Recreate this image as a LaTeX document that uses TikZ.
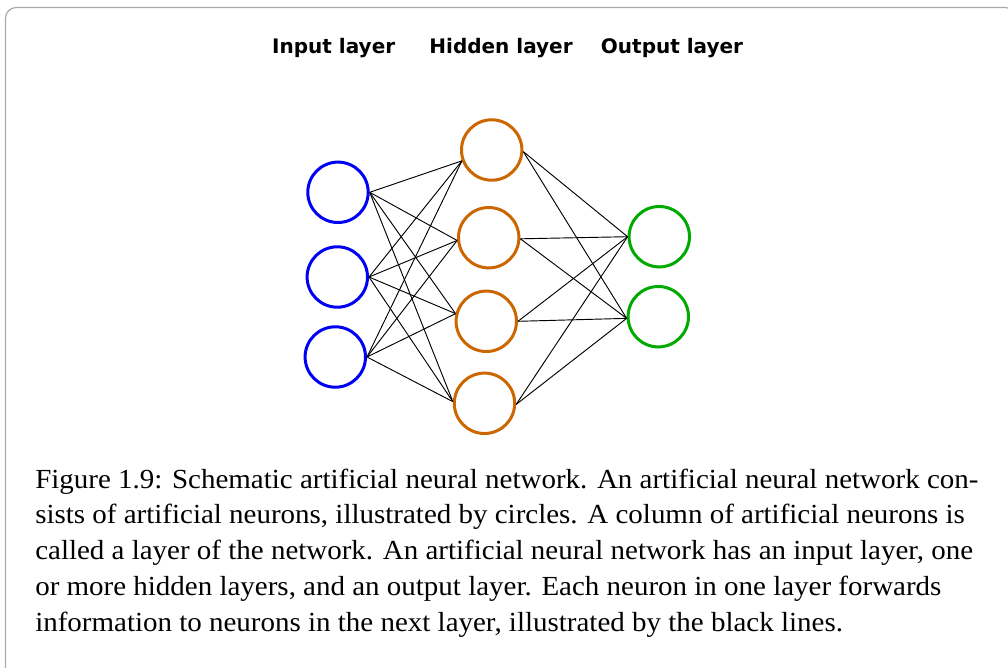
\documentclass[tikz,border=0pt]{standalone}
\usepackage{fontspec}
\setmainfont{Liberation Serif}
\newfontfamily\capfont[FakeStretch=1.05]{Liberation Serif}
\newfontfamily\labelfont{DejaVu Sans}
\definecolor{inblue}{RGB}{0,0,245}
\definecolor{hidorange}{RGB}{204,102,0}
\definecolor{outgreen}{RGB}{0,170,0}
\definecolor{framegray}{RGB}{170,170,170}
\begin{document}
\begin{tikzpicture}[x=0.75pt,y=-0.75pt,
  neuron/.style={circle, draw, line width=2.25pt, minimum size=45.3pt, inner sep=0pt},
  innode/.style={neuron, draw=inblue},
  hidnode/.style={neuron, draw=hidorange},
  outnode/.style={neuron, draw=outgreen},
  edge/.style={draw=black, line width=0.7pt},
  layerlabel/.style={font=\labelfont\bfseries\fontsize{15}{18}\selectfont, anchor=base, inner sep=0pt},
  capline/.style={font=\capfont\fontsize{20.7}{27}\selectfont, anchor=base west, inner sep=0pt}]
\useasboundingbox (0,0) rectangle (1008,668);
\begin{scope}
  \clip (0,0) rectangle (1008,668);
  \draw[framegray, line width=0.9pt, rounded corners=8pt] (5.5,7.5) rectangle (1016,700);
\end{scope}
% labels
\node[layerlabel] (lin) at (333.7,53.3) {Input layer};
\node[layerlabel] (lhid) at (501,53.3) {Hidden layer};
\node[layerlabel] (lout) at (672,53.3) {Output layer};
% neurons
\node[innode] (i1) at (338,192.3) {};
\node[innode] (i2) at (337.3,277) {};
\node[innode] (i3) at (335.3,357) {};
\node[hidnode] (h1) at (491.7,150) {};
\node[hidnode] (h2) at (488.7,237.7) {};
\node[hidnode] (h3) at (486.3,321.3) {};
\node[hidnode] (h4) at (484.5,403.3) {};
\node[outnode] (o1) at (659.3,236.7) {};
\node[outnode] (o2) at (658.3,316.7) {};
% input -> hidden
\foreach \i in {i1,i2,i3}{
  \draw[edge] (\i.east) -- (h1.200);
  \draw[edge] (\i.east) -- (h2.185);
  \draw[edge] (\i.east) -- (h3.166);
  \draw[edge] (\i.east) -- (h4.177);
}
% hidden -> output
\foreach \h/\a in {h1/-3,h2/-2,h3/0,h4/-2}{
  \draw[edge] (\h.\a) -- (o1.west);
  \draw[edge] (\h.\a) -- (o2.183);
}
% caption
\node[capline] (c1) at (35,488.3) {Figure 1.9: Schematic artificial neural network. An artificial neural network con-};
\node[capline] (c2) at (35,523.8) {sists of artificial neurons, illustrated by circles. A column of artificial neurons is};
\node[capline] (c3) at (35,559.5) {called a layer of the network. An artificial neural network has an input layer, one};
\node[capline] (c4) at (35,595.3) {or more hidden layers, and an output layer. Each neuron in one layer forwards};
\node[capline] (c5) at (35,631.3) {information to neurons in the next layer, illustrated by the black lines.};
\end{tikzpicture}
\end{document}
